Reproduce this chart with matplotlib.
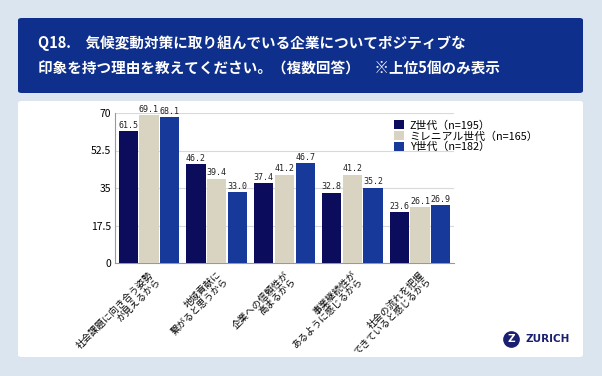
import matplotlib.pyplot as plt
from matplotlib.patches import FancyBboxPatch
from matplotlib.lines import Line2D
import numpy as np

plt.rcParams['font.family'] = ['Noto Sans CJK JP', 'DejaVu Sans']

categories = ["社会課題に向き合う姿勢\nが見えるから",
              "地域貢献に\n繋がると思うから",
              "企業への信頼性が\n高まるから",
              "事業継続性が\nあるように感じるから",
              "社会の流れを把握\nできていると感じるから"]
series_names = ["Z世代（n=195）", "ミレニアル世代（n=165）", "Y世代（n=182）"]
z_gen = [61.5, 46.2, 37.4, 32.8, 23.6]
millennial = [69.1, 39.4, 41.2, 41.2, 26.1]
y_gen = [68.1, 33.0, 46.7, 35.2, 26.9]
yticks = [0, 17.5, 35, 52.5, 70]
ytick_labels = ["0", "17.5", "35", "52.5", "70"]

title = ("Q18.　気候変動対策に取り組んでいる企業についてポジティブな\n"
         "印象を持つ理由を教えてください。（複数回答）　※上位5個のみ表示")

colors = ['#0b0c5c', '#d9d3c2', '#17399a']

W, H = 602, 376
fig = plt.figure(figsize=(W / 100, H / 100), dpi=100)
fig.patch.set_facecolor('#dbe5f0')


def box(x0, y0, x1, y1, color):
    # pixel coords, y from top
    p = FancyBboxPatch((x0 / W, 1 - y1 / H), (x1 - x0) / W, (y1 - y0) / H,
                       boxstyle="round,pad=0,rounding_size=0.006",
                       transform=fig.transFigure, facecolor=color,
                       edgecolor='none', zorder=0)
    fig.add_artist(p)


box(18, 18, 583, 93, '#0f2f8c')
box(18, 101, 583, 357, 'white')

fig.text(38 / W, 1 - 56 / H, title, color='white', fontsize=10.5,
         fontweight='bold', va='center', ha='left', linespacing=1.75)

ax = fig.add_axes([115 / W, 1 - 263 / H, (454 - 115) / W, (263 - 113) / H])
ax.set_facecolor('white')

x = np.arange(len(categories))
bw = 0.285
gap = 0.02
for i, (vals, c, name) in enumerate(zip([z_gen, millennial, y_gen], colors, series_names)):
    pos = x + (i - 1) * (bw + gap)
    bars = ax.bar(pos, vals, bw, color=c, label=name, zorder=3)
    for b, v in zip(bars, vals):
        ax.text(b.get_x() + b.get_width() / 2, v + 0.6, f"{v:.1f}",
                ha='center', va='bottom', fontsize=6, color='#222222',
                family='DejaVu Sans Mono', zorder=4)

ax.set_xlim(-0.5, len(categories) - 0.5)
ax.set_ylim(0, 70)
ax.set_yticks(yticks)
ax.set_yticklabels(ytick_labels, fontsize=7.5)
ax.yaxis.grid(True, color='#d9d9d9', linewidth=0.8, zorder=0)
ax.set_xticks(x)
ax.set_xticklabels(categories, rotation=45, ha='right', rotation_mode='anchor',
                   fontsize=6.8, linespacing=1.0, multialignment='right')
ax.tick_params(axis='both', length=0, pad=3)
ax.tick_params(axis='x', pad=5)
for s in ['top', 'right']:
    ax.spines[s].set_visible(False)
ax.spines['left'].set_color('#999999')
ax.spines['bottom'].set_color('#999999')

leg = fig.legend(loc='upper left', bbox_to_anchor=(389 / W, 1 - 115 / H),
                 frameon=False, fontsize=7.8, handlelength=0.9, handleheight=0.9,
                 handletextpad=0.5, labelspacing=0.05, borderpad=0)

# Zurich logo
fig.add_artist(Line2D([511 / W], [1 - 339 / H], marker='o', markersize=11,
                      color='#1a1f6e', transform=fig.transFigure))
fig.text(511 / W, 1 - 339.5 / H, "Z", color='white', fontsize=7.5,
         fontweight='bold', ha='center', va='center', family='DejaVu Sans')
fig.text(526 / W, 1 - 339 / H, "ZURICH", color='#1a1f6e', fontsize=7.5,
         fontweight='bold', ha='left', va='center', family='DejaVu Sans')

fig.savefig('out.png', dpi=100, facecolor=fig.get_facecolor())
